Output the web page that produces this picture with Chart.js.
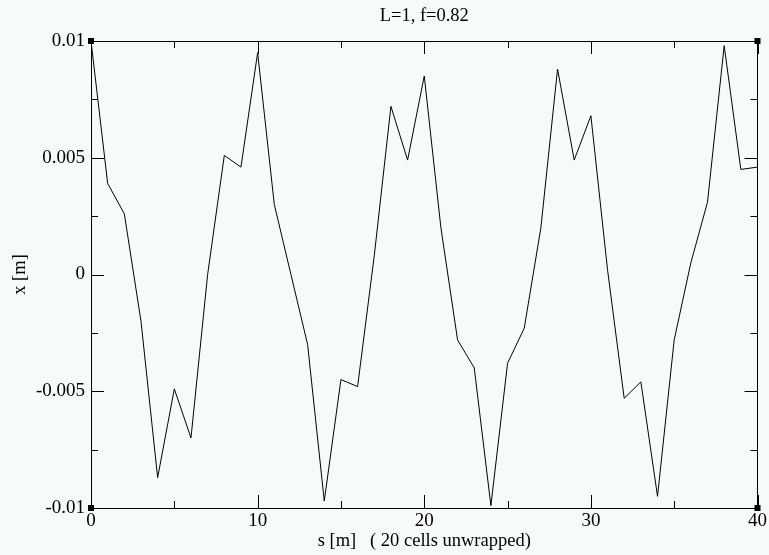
<!DOCTYPE html>
<html lang="en">
<head>
    <meta charset="UTF-8">
    <title>L=1, f=0.82</title>
    <script src="https://cdn.jsdelivr.net/npm/chart.js"></script>
    <style>
        body { margin: 0; background: #f7fbf8; }
        .chart-box { width: 769px; height: 555px; }
    </style>
</head>
<body>
    <div class="chart-box">
        <canvas id="orbit-chart" width="769" height="555"></canvas>
    </div>

    <script>
        // Position along the line [m] and horizontal offset x [m]
        const sPositions = [0, 1, 2, 3, 4, 5, 6, 7, 8, 9, 10, 11, 12, 13, 14, 15, 16, 17, 18, 19, 20,
                            21, 22, 23, 24, 25, 26, 27, 28, 29, 30, 31, 32, 33, 34, 35, 36, 37, 38, 39, 40];
        const xOffsets = [0.0100, 0.0039, 0.0026, -0.0020, -0.0087, -0.0049, -0.0070, 0.0000, 0.0051, 0.0046,
                          0.0095, 0.0030, 0.0000, -0.0030, -0.0097, -0.0045, -0.0048, 0.0008, 0.0072, 0.0049,
                          0.0085, 0.0020, -0.0028, -0.0040, -0.0099, -0.0038, -0.0023, 0.0020, 0.0088, 0.0049,
                          0.0068, 0.0002, -0.0053, -0.0046, -0.0095, -0.0028, 0.0005, 0.0031, 0.0098, 0.0045,
                          0.0046];

        // Tick values
        const xMajorTicks = [0, 10, 20, 30, 40];
        const xMinorTicks = [5, 15, 25, 35];
        const yMajorTicks = [-0.01, -0.005, 0, 0.005, 0.01];
        const yMinorTicks = [-0.0075, -0.0025, 0.0025, 0.0075];
        const yTickLabels = ['-0.01', '-0.005', '0', '0.005', '0.01'];

        const serif = 'Liberation Serif';

        // Inward ticks on all four sides plus the little corner squares
        const frameTicks = {
            id: 'frameTicks',
            afterDraw(chart) {
                const ctx = chart.ctx;
                const area = chart.chartArea;
                const xs = chart.scales.x;
                const ys = chart.scales.y;
                ctx.save();
                ctx.strokeStyle = '#000';
                ctx.lineWidth = 1;
                ctx.beginPath();
                const xTick = (v, len) => {
                    const px = Math.round(xs.getPixelForValue(v)) + 0.5;
                    ctx.moveTo(px, area.bottom); ctx.lineTo(px, area.bottom - len);
                    ctx.moveTo(px, area.top); ctx.lineTo(px, area.top + len);
                };
                const yTick = (v, len) => {
                    const py = Math.round(ys.getPixelForValue(v)) + 0.5;
                    ctx.moveTo(area.left, py); ctx.lineTo(area.left + len, py);
                    ctx.moveTo(area.right, py); ctx.lineTo(area.right - len, py);
                };
                xMajorTicks.forEach(v => xTick(v, 13));
                xMinorTicks.forEach(v => xTick(v, 7));
                yMajorTicks.forEach(v => yTick(v, 13));
                yMinorTicks.forEach(v => yTick(v, 7));
                ctx.stroke();

                ctx.fillStyle = '#000';
                [[area.left, area.top], [area.right, area.top],
                 [area.left, area.bottom], [area.right, area.bottom]].forEach(([cx, cy]) => {
                    ctx.fillRect(cx - 3, cy - 3, 6, 6);
                });
                ctx.restore();
            }
        };

        const ctx = document.getElementById('orbit-chart').getContext('2d');

        new Chart(ctx, {
            type: 'line',
            data: {
                datasets: [{
                    data: sPositions.map((s, i) => ({ x: s, y: xOffsets[i] })),
                    borderColor: '#000',
                    borderWidth: 1,
                    pointRadius: 0,
                    tension: 0,
                    fill: false
                }]
            },
            options: {
                responsive: false,
                animation: false,
                layout: { padding: 0 },
                plugins: {
                    legend: { display: false },
                    tooltip: { enabled: false }
                },
                scales: {
                    x: {
                        type: 'linear',
                        position: 'bottom',
                        min: 0,
                        max: 40,
                        afterBuildTicks: scale => { scale.ticks = xMajorTicks.map(v => ({ value: v })); },
                        grid: { display: false, drawTicks: false },
                        border: { display: true, color: '#000', width: 1 },
                        ticks: {
                            color: '#000',
                            padding: 2,
                            maxRotation: 0,
                            font: { family: serif, size: 19 }
                        },
                        title: {
                            display: true,
                            text: 's [m]   ( 20 cells unwrapped)',
                            color: '#000',
                            font: { family: serif, size: 18.5 },
                            padding: { top: 0, bottom: 3 }
                        },
                        afterFit: scale => { scale.height = 47; }
                    },
                    // top axis carries the plot title so it centres over the frame
                    x2: {
                        type: 'linear',
                        position: 'top',
                        min: 0,
                        max: 40,
                        grid: { display: false, drawTicks: false },
                        border: { display: true, color: '#000', width: 1 },
                        ticks: { display: false },
                        title: {
                            display: true,
                            text: 'L=1, f=0.82',
                            color: '#000',
                            font: { family: serif, size: 18.5 },
                            padding: { top: 5, bottom: 0 }
                        },
                        afterFit: scale => { scale.height = 41; }
                    },
                    y: {
                        type: 'linear',
                        position: 'left',
                        min: -0.01,
                        max: 0.01,
                        afterBuildTicks: scale => { scale.ticks = yMajorTicks.map(v => ({ value: v })); },
                        grid: { display: false, drawTicks: false },
                        border: { display: true, color: '#000', width: 1 },
                        ticks: {
                            color: '#000',
                            padding: 6,
                            font: { family: serif, size: 19 },
                            callback: (value, index) => yTickLabels[index]
                        },
                        title: {
                            display: true,
                            text: 'x [m]',
                            color: '#000',
                            font: { family: serif, size: 18.5 },
                            padding: { top: 9, bottom: 0 }
                        },
                        afterFit: scale => { scale.width = 91; }
                    },
                    y2: {
                        type: 'linear',
                        position: 'right',
                        min: -0.01,
                        max: 0.01,
                        grid: { display: false, drawTicks: false },
                        border: { display: true, color: '#000', width: 1 },
                        ticks: { display: false },
                        afterFit: scale => { scale.width = 7; }
                    }
                }
            },
            plugins: [frameTicks]
        });
    </script>
</body>
</html>
